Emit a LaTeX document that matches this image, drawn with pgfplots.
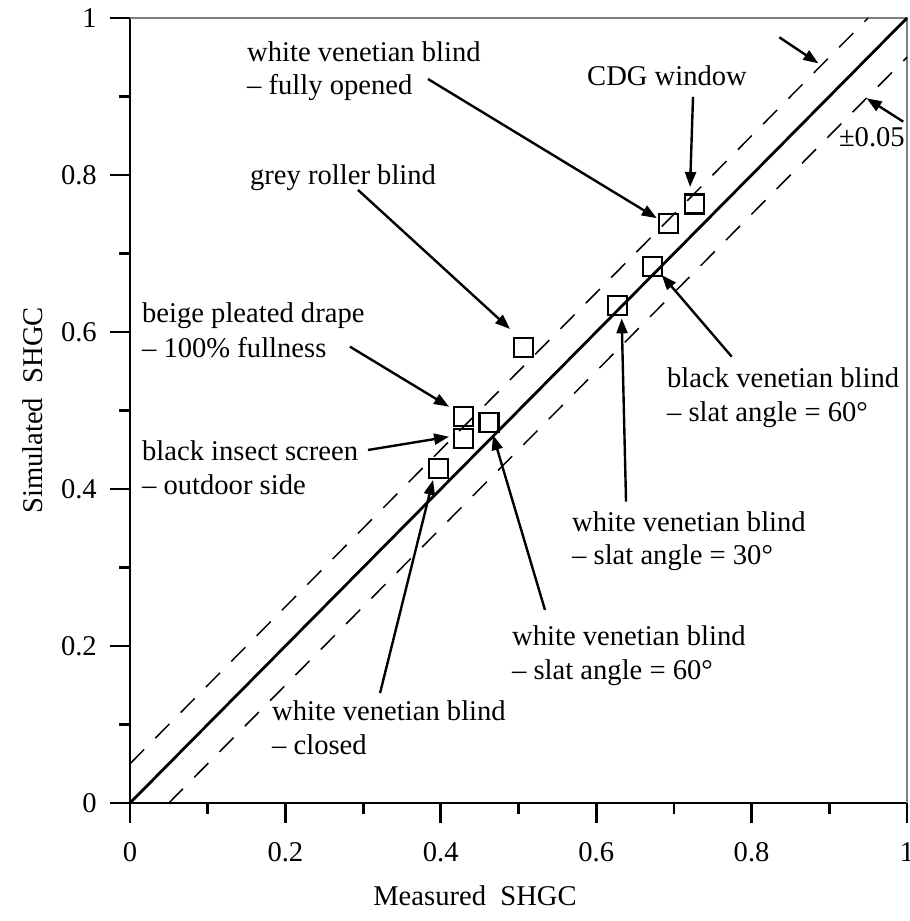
\documentclass[border=0pt]{standalone}
\usepackage{fontspec}
\setmainfont{Liberation Serif}
\usepackage{pgfplots}
\pgfplotsset{compat=1.18}
\usetikzlibrary{arrows.meta}

\newcommand{\lbl}{\fontsize{28.6pt}{34pt}\selectfont}

% measured vs simulated SHGC of the shading layers
\pgfplotstableread{
x     y
0.727 0.763
0.693 0.738
0.672 0.683
0.627 0.634
0.506 0.580
0.429 0.492
0.462 0.485
0.429 0.464
0.397 0.426
}\shgc

\begin{document}
\begin{tikzpicture}[font=\lbl,
  ann/.style={line width=2.4pt, -{Triangle[length=15pt, width=11pt]}},
  txt/.style={anchor=base west, inner sep=0pt}]
\begin{axis}[
  scale only axis, width=777pt, height=785pt,
  xmin=0, xmax=1, ymin=0, ymax=1,
  axis lines*=left,
  axis line style={line width=2.8pt, black},
  xtick={0,0.2,0.4,0.6,0.8,1}, ytick={0,0.2,0.4,0.6,0.8,1},
  minor tick num=1,
  tick align=outside,
  major tick length=20pt, minor tick length=11pt,
  every tick/.style={black, line width=2.8pt},
  /pgf/number format/assume math mode=true,
  ticklabel style={font=\lbl, inner sep=0pt},
  xticklabel style={yshift=-19pt},
  yticklabel style={xshift=-13pt},
  clip=false,
]
% thin frame on top and right
\draw[gray, line width=1.3pt] (rel axis cs:0,1) -- (rel axis cs:1,1) -- (rel axis cs:1,0);

% line of equality and the +/-0.05 band
\addplot[black, line width=2.8pt] coordinates {(0,0) (1,1)};
\addplot[black, line width=1.5pt, dash pattern=on 20pt off 16pt] coordinates {(0,0.05) (0.95,1)};
\addplot[black, line width=1.5pt, dash pattern=on 20pt off 16pt] coordinates {(0.05,0) (1,0.95)};

\addplot[only marks, mark=square, mark size=9.5pt,
  mark options={black, line width=2.2pt}] table[x=x, y=y] {\shgc};

% annotations
\node[txt] at (axis cs:0.1506,0.9448) {white venetian blind};
\node[txt] at (axis cs:0.1506,0.9025) {– fully opened};
\draw[ann] (axis cs:0.3835,0.9223) -- (axis cs:0.678,0.745);

\node[txt] at (axis cs:0.5882,0.9146) {CDG window};
\draw[ann] (axis cs:0.7246,0.8994) -- (axis cs:0.7208,0.7847);

\node[txt] at (axis cs:0.1544,0.7885) {grey roller blind};
\draw[ann] (axis cs:0.2934,0.781) -- (axis cs:0.4891,0.6038);

\node[txt] at (axis cs:0.0154,0.6115) {beige pleated drape};
\node[txt] at (axis cs:0.0154,0.5669) {– 100\% fullness};
\draw[ann] (axis cs:0.2831,0.5813) -- (axis cs:0.4106,0.5048);

\node[txt] at (axis cs:0.0154,0.4357) {black insect screen};
\node[txt] at (axis cs:0.0154,0.3924) {– outdoor side};
\draw[ann] (axis cs:0.3063,0.4497) -- (axis cs:0.4106,0.4666);

\node[txt] at (axis cs:0.1828,0.1057) {white venetian blind};
\node[txt] at (axis cs:0.1828,0.0624) {– closed};
\draw[ann] (axis cs:0.3218,0.140) -- (axis cs:0.39,0.4115);

\node[txt] at (axis cs:0.4916,0.2) {white venetian blind};
\node[txt] at (axis cs:0.4916,0.1567) {– slat angle = 60°};
\draw[ann] (axis cs:0.5341,0.2459) -- (axis cs:0.4672,0.4688);

\node[txt] at (axis cs:0.5689,0.3456) {white venetian blind};
\node[txt] at (axis cs:0.5689,0.3032) {– slat angle = 30°};
\draw[ann] (axis cs:0.6384,0.3838) -- (axis cs:0.6328,0.6174);

\node[txt] at (axis cs:0.6911,0.5287) {black venetian blind};
\node[txt] at (axis cs:0.6911,0.4854) {– slat angle = 60°};
\draw[ann] (axis cs:0.7744,0.5686) -- (axis cs:0.6843,0.6726);

\node[anchor=base east, inner sep=0pt] at (axis cs:0.9974,0.8357) {±0.05};
\draw[ann] (axis cs:0.8357,0.9754) -- (axis cs:0.8859,0.9423);
\draw[ann] (axis cs:0.9952,0.8679) -- (axis cs:0.9481,0.8977);

% axis titles
\node[anchor=base, inner sep=0pt] at (axis cs:0.444,-0.131) {Measured\ \ SHGC};
\node[rotate=90, anchor=center, inner sep=0pt] at (axis cs:-0.1248,0.5) {Simulated\ \ SHGC};
\end{axis}
\pgfresetboundingbox
\path[use as bounding box] (-130pt,-118pt) rectangle (780pt,803pt);
\end{tikzpicture}
\end{document}
